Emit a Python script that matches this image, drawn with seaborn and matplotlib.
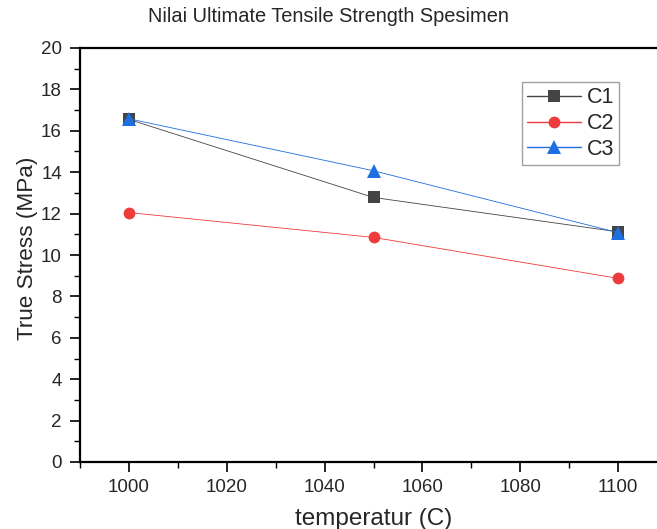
import matplotlib
matplotlib.use("Agg")
import matplotlib.pyplot as plt
import seaborn as sns
import pandas as pd
from matplotlib.ticker import MultipleLocator

temperature = [1000, 1050, 1100]
c1 = [16.55, 12.78, 11.12]
c2 = [12.05, 10.85, 8.87]
c3 = [16.58, 14.07, 11.08]
series_names = ["C1", "C2", "C3"]

df = pd.DataFrame({
    "temperatur": temperature * 3,
    "stress": c1 + c2 + c3,
    "series": [s for s in series_names for _ in temperature],
})

sns.set_theme(style="ticks")
plt.rcParams['font.family'] = ['Liberation Sans', 'DejaVu Sans']

fig = plt.figure(figsize=(6.57, 5.29), dpi=100)
ax = fig.add_axes([80/657, 1-462/529, (667-80)/657, (462-48)/529])

palette = {"C1": "#444444", "C2": "#EE3B3B", "C3": "#1E6FE0"}
markers = {"C1": "s", "C2": "o", "C3": "^"}
sns.lineplot(data=df, x="temperatur", y="stress", hue="series", style="series",
             markers=markers, dashes=False, palette=palette, linewidth=0.6,
             markersize=8, ax=ax, legend=True)

for ln in ax.get_lines():
    ln.set_markeredgewidth(0)
    if ln.get_marker() == "^":
        ln.set_markersize(9.5)
    elif ln.get_marker() == "o":
        ln.set_markersize(8.5)

ax.set_xlim(990, 1110)
ax.set_ylim(0, 20)
ax.xaxis.set_major_locator(MultipleLocator(20))
ax.xaxis.set_minor_locator(MultipleLocator(10))
ax.yaxis.set_major_locator(MultipleLocator(2))
ax.yaxis.set_minor_locator(MultipleLocator(1))
ax.tick_params(which="major", direction="out", length=7, width=1.2, labelsize=13.5, color="black")
ax.tick_params(which="minor", direction="out", length=4, width=1.0, color="black")
ax.tick_params(axis="y", which="major", pad=6)
ax.tick_params(axis="x", which="major", pad=5)
for s in ["left", "bottom", "top"]:
    ax.spines[s].set_linewidth(1.6)
    ax.spines[s].set_color("black")
ax.spines["right"].set_visible(False)
ax.grid(False)

ax.set_xlabel("temperatur (C)", fontsize=17.5, labelpad=9)
ax.set_ylabel("True Stress (MPa)", fontsize=16.2, labelpad=2)
ax.yaxis.label.set_y((462-248)/414)
fig.text(0.5, 1-17/529, "Nilai Ultimate Tensile Strength Spesimen", ha="center", va="center", fontsize=14.4)

leg = ax.legend(loc="upper left", bbox_to_anchor=((522-80)/587, 1-(82-48)/414),
                frameon=True, fancybox=False, fontsize=15.5, handlelength=2.5,
                handletextpad=0.25, labelspacing=0.22, borderpad=0.25, borderaxespad=0)
leg.get_frame().set_edgecolor("#888888")
leg.get_frame().set_linewidth(1.0)
for h in leg.legend_handles:
    h.set_linewidth(1.0)
    h.set_markeredgewidth(0)

fig.savefig("out.png", dpi=100)
